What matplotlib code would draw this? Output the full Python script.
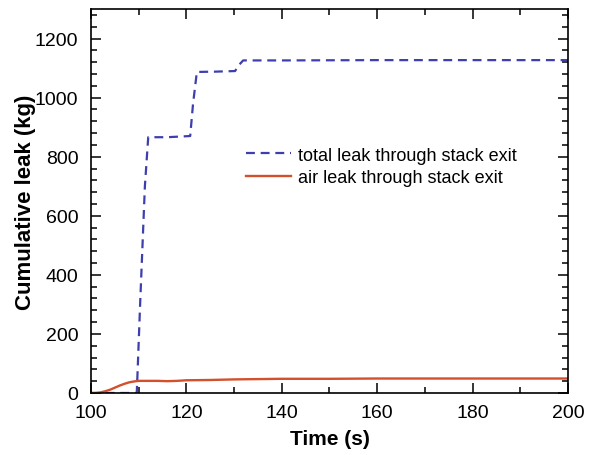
import matplotlib
matplotlib.use("Agg")
import matplotlib.pyplot as plt
from matplotlib.ticker import MultipleLocator

plt.rcParams['font.family'] = ['Liberation Sans', 'DejaVu Sans']

# total leak (kg) vs time (s)
t_total = [100, 109.6, 110.3, 111.3, 112.0, 116, 120.8, 121.4, 122.2, 126, 130.2, 131.0, 131.9, 140, 160, 180, 200]
total_leak = [0, 0, 300, 700, 866, 866, 870, 980, 1087, 1088, 1090, 1110, 1126, 1126, 1127, 1127, 1127]

# air leak (kg) vs time (s)
t_air = [100, 101, 102, 103, 104, 105, 106, 107, 108, 109, 110, 112, 114, 116, 118, 120, 125, 130, 135, 140, 150, 160, 170, 180, 190, 200]
air_leak = [0, 0, 2, 6, 11, 18, 25, 31, 36, 39, 41, 41, 41, 40, 41, 43, 44, 46, 47, 48, 48, 49, 49, 49, 49, 49]

fig = plt.figure(figsize=(6.01, 4.56), dpi=100)
ax = fig.add_axes([0.1514, 0.136, 0.7936, 0.842])

ax.plot(t_total, total_leak, color='#3d3fae', lw=1.6, ls=(0, (4, 2.6)),
        label='total leak through stack exit')
ax.plot(t_air, air_leak, color='#d2502c', lw=1.7,
        label='air leak through stack exit')

ax.set_xlim(100, 200)
ax.set_ylim(0, 1300)
ax.xaxis.set_major_locator(MultipleLocator(20))
ax.xaxis.set_minor_locator(MultipleLocator(10))
ax.yaxis.set_major_locator(MultipleLocator(200))
ax.yaxis.set_minor_locator(MultipleLocator(40))
ax.tick_params(which='both', direction='in', top=True, right=True, labelsize=14, width=1.1)
ax.tick_params(which='major', length=7)
ax.tick_params(which='minor', length=4)
ax.tick_params(axis='x', which='major', pad=8)
ax.tick_params(axis='y', which='major', pad=9)
for s in ax.spines.values():
    s.set_linewidth(1.2)

ax.set_xlabel('Time (s)', fontsize=15, fontweight='bold', labelpad=6)
ax.set_ylabel('Cumulative leak (kg)', fontsize=16, fontweight='bold', labelpad=-1)

ax.legend(loc='upper left', bbox_to_anchor=(0.31, 0.66), frameon=False, fontsize=13,
          handlelength=2.5, handletextpad=0.35, labelspacing=0.3, borderaxespad=0)

fig.savefig('out.png', dpi=100)
